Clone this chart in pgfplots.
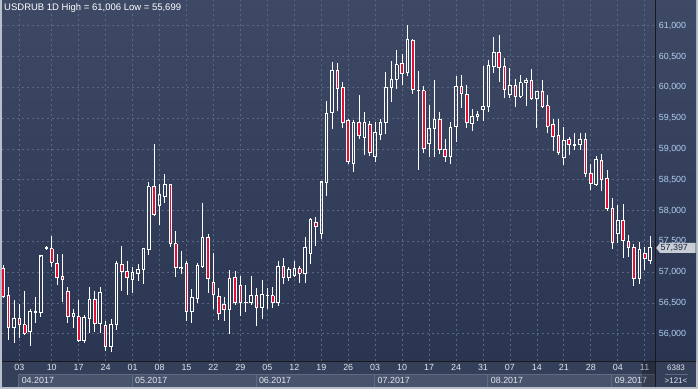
\documentclass[border=0pt]{standalone}
\usepackage{pgfplots}
\pgfplotsset{compat=1.18}
\usepackage{pgfplotstable}
\usepackage{fontspec}
\setmainfont{Liberation Sans}
\definecolor{bgtop}{RGB}{62,74,101}
\definecolor{bgbot}{RGB}{42,53,81}
\definecolor{gridc}{RGB}{90,104,134}
\definecolor{candred}{RGB}{225,16,52}
\definecolor{framec}{RGB}{185,192,204}
\definecolor{panel}{RGB}{52,63,89}
\definecolor{monthbox}{RGB}{72,83,108}
\definecolor{monthline}{RGB}{95,106,130}
\definecolor{ylab}{RGB}{178,206,240}
\definecolor{xlab}{RGB}{225,230,238}
\definecolor{markfill}{RGB}{200,205,214}
\definecolor{marktext}{RGB}{25,35,60}

\pgfplotstableread{
x o h l c
0 57.065 57.120 56.580 56.610
1 56.622 56.758 55.908 56.108
2 56.108 56.541 55.848 56.244
3 56.244 56.476 55.930 56.146
4 56.152 56.703 55.990 56.011
5 56.043 56.406 55.800 56.357
6 56.352 56.590 56.173 56.360
7 56.352 57.270 56.281 57.266
8 57.380 57.420 57.375 57.407
9 57.380 57.596 57.082 57.163
10 57.136 57.299 56.800 56.909
11 56.931 57.299 56.525 56.877
12 56.687 56.758 56.173 56.287
13 56.287 56.406 56.092 56.330
14 56.281 56.557 55.876 55.892
15 55.892 56.314 55.848 56.265
16 56.254 56.758 56.011 56.552
17 56.552 56.693 56.027 56.162
18 56.162 56.768 56.011 56.671
19 56.130 56.211 55.724 55.800
20 55.800 56.244 55.699 56.146
21 56.146 57.174 56.065 57.136
22 57.120 57.418 56.703 57.006
23 57.006 57.190 56.628 56.920
24 56.877 57.082 56.660 56.990
25 56.985 57.136 56.850 57.039
26 57.039 57.396 56.812 57.380
27 57.364 58.457 57.272 58.392
28 58.392 59.074 57.910 57.932
29 58.078 58.435 57.770 58.256
30 58.235 58.587 58.120 58.419
31 58.419 58.430 57.407 57.461
32 57.461 57.677 56.920 57.071
33 57.070 57.353 56.974 57.078
34 57.136 57.190 56.216 56.368
35 56.368 56.730 56.173 56.584
36 56.579 57.158 56.498 57.104
37 57.098 58.127 57.082 57.558
38 57.558 57.623 56.660 56.893
39 56.828 57.310 56.406 56.633
40 56.611 56.736 56.227 56.325
41 56.471 56.595 56.206 56.390
42 56.390 57.028 56.000 56.893
43 56.909 57.028 56.476 56.514
44 56.779 56.931 56.287 56.503
45 56.510 56.800 56.352 56.515
46 56.514 56.947 56.476 56.617
47 56.617 56.747 56.124 56.422
48 56.422 56.866 56.238 56.633
49 56.620 56.747 56.400 56.625
50 56.617 56.758 56.422 56.503
51 56.503 57.180 56.449 57.088
52 57.088 57.223 56.812 56.909
53 56.909 57.082 56.866 57.044
54 56.947 57.190 56.936 57.055
55 57.055 57.093 56.828 56.985
56 56.985 57.580 56.828 57.396
57 57.299 57.883 57.136 57.851
58 57.802 57.894 57.418 57.748
59 57.634 58.470 57.542 58.468
60 58.462 59.772 58.235 59.571
61 59.598 60.421 59.328 60.275
62 60.275 60.394 59.625 59.977
63 59.999 60.085 59.339 59.436
64 59.458 59.490 58.760 58.803
65 58.760 59.474 58.624 59.425
66 59.425 59.869 59.155 59.220
67 59.193 59.598 58.895 59.425
68 59.393 59.463 58.879 58.938
69 58.884 59.447 58.787 59.263
70 59.230 59.490 59.139 59.425
71 59.436 60.248 59.247 59.994
72 59.994 60.426 59.761 60.129
73 60.129 60.616 59.977 60.367
74 60.383 60.545 60.031 60.221
75 60.237 61.006 60.194 60.773
76 60.762 60.780 59.885 59.961
77 59.950 60.275 58.652 59.955
78 59.945 60.015 58.938 59.003
79 59.084 59.718 58.868 59.328
80 59.328 60.129 58.868 59.474
81 59.474 59.598 58.917 58.987
82 58.987 59.166 58.787 58.884
83 58.884 59.436 58.760 59.344
84 59.371 60.183 59.111 60.015
85 60.015 60.194 59.663 59.896
86 59.880 60.042 59.339 59.425
87 59.409 59.653 59.301 59.528
88 59.528 59.610 59.453 59.560
89 59.636 60.345 59.452 59.696
90 59.696 60.453 59.598 60.356
91 60.345 60.827 60.232 60.562
92 60.562 60.843 60.086 60.329
93 60.334 60.475 59.826 59.961
94 59.880 60.323 59.826 60.031
95 60.031 60.129 59.690 59.858
96 59.858 60.205 59.826 60.075
97 60.075 60.150 59.706 60.113
98 60.113 60.302 59.799 59.826
99 59.826 59.940 59.339 59.934
100 59.934 60.113 59.680 59.696
101 59.706 59.869 59.258 59.371
102 59.393 59.480 58.976 59.209
103 59.220 59.490 58.895 58.949
104 58.868 59.366 58.733 59.139
105 59.149 59.190 58.900 59.068
106 59.066 59.258 58.990 59.070
107 59.068 59.263 58.990 59.149
108 59.149 59.258 58.543 58.597
109 58.597 58.760 58.338 58.435
110 58.424 58.879 58.410 58.825
111 58.808 58.911 58.316 58.500
112 58.516 58.668 57.991 58.029
113 58.029 58.202 57.380 57.477
114 57.623 58.094 57.477 57.840
115 57.834 58.110 57.234 57.515
116 57.504 57.607 57.245 57.396
117 57.396 57.461 56.774 56.893
118 56.893 57.488 56.812 57.364
119 57.309 57.418 57.039 57.218
120 57.190 57.596 57.136 57.397
}\ohlc

\pgfplotsset{
  candlebase/.style={scale only axis, width=653.7pt, height=361pt,
    xmin=-0.219, xmax=121.04, ymin=55.55, ymax=61.411,
    at={(2pt,28pt)}, anchor=south west},
  vseg/.style={draw=none, no markers, error bars/.cd, y dir=both, y explicit,
    error mark=none, error bar style={#1}},
  hseg/.style={draw=none, no markers, error bars/.cd, x dir=both, x explicit,
    error mark=none, error bar style={#1}},
}

\begin{document}
\begin{tikzpicture}[x=1pt,y=1pt]
\fill[framec] (0,0) rectangle (698,389);
\shade[top color=bgtop, bottom color=bgbot] (2,28) rectangle (696,389);
\fill[panel] (2,2.3) rectangle (696,28);

\begin{axis}[candlebase,
  axis line style={draw=none},
  major tick length=0pt,
  xtick={3,9,14,19,24,29,34,39,44,49,54,59,64,69,74,79,84,89,94,99,104,109,114,119},
  xticklabels={03,10,17,24,01,08,15,22,29,05,12,19,26,03,10,17,24,31,07,14,21,28,04,11},
  ytick={56,56.5,57,57.5,58,58.5,59,59.5,60,60.5,61},
  yticklabels={{56,000},{56,500},{57,000},{57,500},{58,000},{58,500},{59,000},{59,500},{60,000},{60,500},{61,000}},
  yticklabel pos=right,
  yticklabel style={font=\fontsize{8.9}{10}\selectfont, text=ylab, anchor=west, inner sep=0pt, xshift=3pt},
  xticklabel style={font=\fontsize{8.9}{10}\selectfont, text=xlab, anchor=north, inner sep=0pt, yshift=-2.3pt},
  xmajorgrids, ymajorgrids,
  grid style={gridc, dash pattern=on 2pt off 3pt, line width=0.7pt},
]
% upper wicks
\addplot[vseg={draw=white, line width=0.9pt}] table[x=x,
  y expr={(\thisrow{h}+max(\thisrow{o},\thisrow{c}))/2},
  y error expr={(\thisrow{h}-max(\thisrow{o},\thisrow{c}))/2}] {\ohlc};
% lower wicks
\addplot[vseg={draw=white, line width=0.9pt}] table[x=x,
  y expr={(\thisrow{l}+min(\thisrow{o},\thisrow{c}))/2},
  y error expr={(min(\thisrow{o},\thisrow{c})-\thisrow{l})/2}] {\ohlc};
% red fill of falling candles
\addplot[vseg={draw=candred, line width=2.6pt}] table[x=x,
  y expr={(\thisrow{o}+\thisrow{c})/2},
  y error expr={\thisrow{o}>\thisrow{c} ? (\thisrow{o}-\thisrow{c})/2 : 0}] {\ohlc};
% body outlines: left and right sides
\addplot[vseg={draw=white, line width=0.9pt}] table[x expr={\thisrow{x}-0.241},
  y expr={(\thisrow{o}+\thisrow{c})/2},
  y error expr={abs(\thisrow{o}-\thisrow{c})/2}] {\ohlc};
\addplot[vseg={draw=white, line width=0.9pt}] table[x expr={\thisrow{x}+0.241},
  y expr={(\thisrow{o}+\thisrow{c})/2},
  y error expr={abs(\thisrow{o}-\thisrow{c})/2}] {\ohlc};
% body outlines: top and bottom
\addplot[hseg={draw=white, line width=0.9pt}] table[x=x, y=o, x error expr={0.3246}] {\ohlc};
\addplot[hseg={draw=white, line width=0.9pt}] table[x=x, y=c, x error expr={0.3246}] {\ohlc};
\end{axis}

% month boxes
\begin{scope}[font=\fontsize{8.9}{10}\selectfont]
\foreach \a/\b/\t in {18.6/131.9/04.2017, 131.9/255.8/05.2017, 255.8/374.5/06.2017, 374.5/487.7/07.2017, 487.7/611.7/08.2017, 611.7/655.7/09.2017}{
  \fill[monthbox] (\a,2.3) rectangle (\b,15.5);
  \draw[monthline, line width=0.6pt] (\a,2.3) -- (\a,15.5) -- (\b,15.5);
  \node[anchor=west, inner sep=0pt, text=xlab] at (\a+3,9) {\t};
}
\end{scope}
\fill[black, opacity=0.25] (641.7,2.3) rectangle (655.7,27.5);

% separators
\draw[black!90, line width=1pt] (2,27.7) -- (696,27.7);
\draw[black!90, line width=1pt] (655.7,2.3) -- (655.7,389);

% last price marker
\fill[markfill] (656.2,141.5) -- (660,146.5) -- (695.5,146.5) -- (695.5,136.5) -- (660,136.5) -- cycle;
\node[anchor=west, inner sep=0pt, text=marktext, font=\fontsize{8.9}{10}\selectfont] at (660.5,141.5) {57,397};

% bottom right info
\node[text=xlab, inner sep=0pt, font=\fontsize{8}{9}\selectfont] at (676,21.5) {6383};
\draw[monthline, line width=0.6pt] (665,15.5) -- (688,15.5);
\node[text=xlab, inner sep=0pt, font=\fontsize{8}{9}\selectfont] at (676,9) {>121<};

% title
\node[anchor=west, inner sep=0pt, text=white, font=\fontsize{9.5}{11}\selectfont] at (4,381.5) {USDRUB 1D High = 61,006 Low = 55,699};
\end{tikzpicture}
\end{document}
